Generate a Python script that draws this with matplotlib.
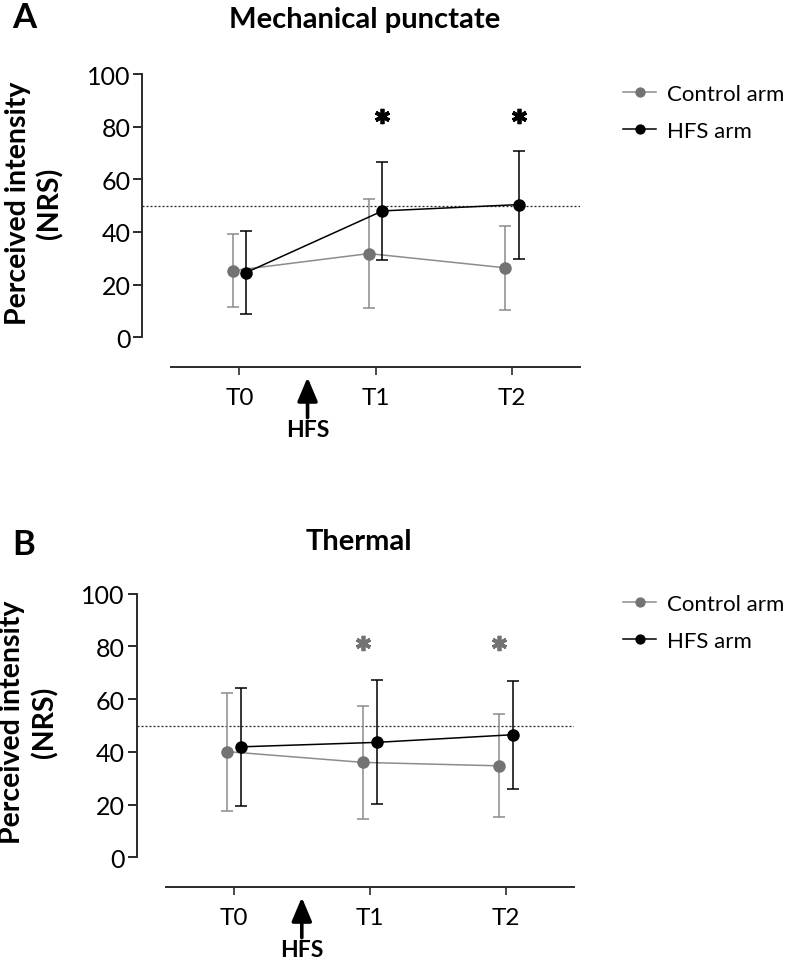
import matplotlib
matplotlib.use('Agg')
import matplotlib.pyplot as plt
import numpy as np

# Fonts
plt.rcParams['font.family'] = ['Lato', 'DejaVu Sans']

# Time points on the x axis
time_labels = ['T0', 'T1', 'T2']
x_pos = np.arange(len(time_labels))

# Panel A: mechanical punctate (mean and SD)
mech_control_mean = [25.3, 31.8, 26.4]
mech_control_sd = [13.9, 20.7, 16.0]
mech_hfs_mean = [24.6, 48.0, 50.4]
mech_hfs_sd = [15.7, 18.7, 20.5]

# Panel B: thermal (mean and SD)
therm_control_mean = [40.1, 36.0, 34.7]
therm_control_sd = [22.4, 21.4, 19.6]
therm_hfs_mean = [41.9, 43.6, 46.5]
therm_hfs_sd = [22.3, 23.5, 20.4]

# Significance stars (time index, height)
mech_star_idx = [1, 2]
mech_star_y = [84, 84]
therm_star_idx = [1, 2]
therm_star_y = [81.4, 81.4]

# Other settings
ref_level = 50
hfs_time = 0.5
y_ticks = [0, 20, 40, 60, 80, 100]
offset = 0.05

control_marker_col = '#737373'
control_line_col = '#8c8c8c'
hfs_col = 'black'
axis_col = '#2b2b2b'

W, H = 792, 962
fig = plt.figure(figsize=(W / 100, H / 100), dpi=100)


def draw_panel(left_px, top_px, bottom_px, right_px, c_mean, c_sd, h_mean, h_sd,
               star_idx, star_y, star_col, star_off, title, letter, letter_y,
               title_y, legend_top):
    # Create the axes from pixel positions
    ax = fig.add_axes([left_px / W, 1 - bottom_px / H,
                       (right_px - left_px) / W, (bottom_px - top_px) / H])

    # Reference line
    ax.axhline(ref_level, color='#222222', lw=0.9, ls=(0, (1.6, 1.6)), zorder=1)

    # Control arm
    ax.errorbar(x_pos - offset, c_mean, yerr=c_sd, fmt='none', ecolor=control_line_col,
                elinewidth=1.1, capsize=4.5, capthick=1.1, zorder=2, clip_on=False)
    ax.plot(x_pos - offset, c_mean, color=control_line_col, lw=1.1, marker='o', ms=8,
            mfc=control_marker_col, mec=control_marker_col, label='Control arm',
            zorder=3, clip_on=False)

    # HFS arm
    ax.errorbar(x_pos + offset, h_mean, yerr=h_sd, fmt='none', ecolor=hfs_col,
                elinewidth=1.1, capsize=4.5, capthick=1.1, zorder=4, clip_on=False)
    ax.plot(x_pos + offset, h_mean, color=hfs_col, lw=1.1, marker='o', ms=8,
            mfc=hfs_col, mec=hfs_col, label='HFS arm', zorder=5, clip_on=False)

    # Significance stars
    ax.plot(x_pos[star_idx] + star_off, star_y, ls='none', marker=(6, 2, 0), ms=11,
            mew=2.7, color=star_col, clip_on=False)

    # Axes styling
    ax.set_xlim(-0.713, 2.5)
    ax.set_ylim(0, 100)
    for s in ['top', 'right']:
        ax.spines[s].set_visible(False)
    ax.spines['left'].set_bounds(0, 100)
    ax.spines['bottom'].set_position(('outward', 21.2))
    ax.spines['bottom'].set_bounds(-0.5, 2.5)
    for s in ['left', 'bottom']:
        ax.spines[s].set_color(axis_col)
        ax.spines[s].set_linewidth(1.4)
    ax.set_yticks(y_ticks)
    ax.set_xticks(x_pos)
    ax.set_xticklabels(time_labels)
    ax.tick_params(axis='y', length=6.5, width=1.4, color=axis_col, pad=2, labelsize=18)
    ax.tick_params(axis='x', length=5.5, width=1.2, color=axis_col, pad=9, labelsize=17.5)

    # HFS arrow and label
    ax.annotate('', xy=(hfs_time, -0.152), xytext=(hfs_time, -0.305),
                xycoords=('data', 'axes fraction'), textcoords=('data', 'axes fraction'),
                arrowprops=dict(arrowstyle='-|>,head_length=0.9,head_width=0.38',
                                mutation_scale=16, lw=2.6, color='black',
                                shrinkA=0, shrinkB=0),
                annotation_clip=False)
    ax.text(hfs_time, -0.35, 'HFS', transform=ax.get_xaxis_transform(),
            ha='center', va='center', fontsize=16.5, fontweight='bold')

    # Title, panel letter and y label
    fig.text((left_px + right_px) / 2 / W + 0.004, 1 - title_y / H, title,
             ha='center', va='center', fontsize=21, fontweight='bold')
    fig.text(24 / W, 1 - letter_y / H, letter, ha='center', va='center',
             fontsize=25, fontweight='bold')
    fig.text((left_px - 108) / W, 1 - ((top_px + bottom_px) / 2 - 3.7) / H,
             'Perceived intensity\n(NRS)', rotation=90, ha='center', va='center',
             fontsize=20.5, fontweight='bold', linespacing=1.25, multialignment='center')

    # Legend
    ax.legend(loc='upper left', bbox_to_anchor=(623 / W, 1 - legend_top / H),
              bbox_transform=fig.transFigure, frameon=False, fontsize=16,
              borderpad=0, borderaxespad=0, handlelength=1.5, handletextpad=0.5,
              labelspacing=0.75, markerscale=0.8)
    return ax


# Panel A
draw_panel(142.3, 75.0, 338.3, 580.0, mech_control_mean, mech_control_sd,
           mech_hfs_mean, mech_hfs_sd, mech_star_idx, mech_star_y, 'black', offset,
           'Mechanical punctate', 'A', 18.5, 20, 85)

# Panel B
draw_panel(136.7, 594.7, 858.3, 574.0, therm_control_mean, therm_control_sd,
           therm_hfs_mean, therm_hfs_sd, therm_star_idx, therm_star_y,
           control_marker_col, -offset, 'Thermal', 'B', 545, 541.7, 595)

# Save the figure
plt.savefig('out.png', dpi=100)
plt.close()
